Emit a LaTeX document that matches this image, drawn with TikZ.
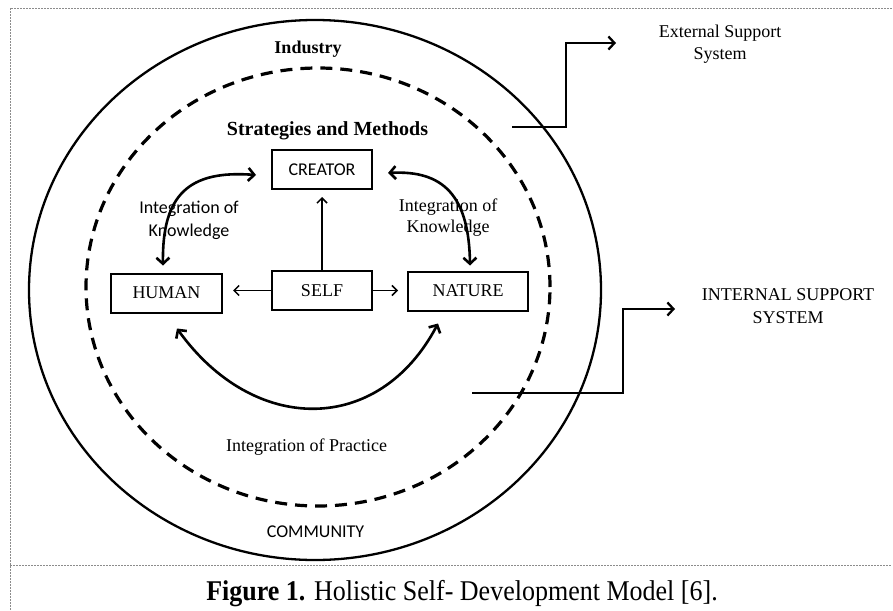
\documentclass[tikz,border=0pt]{standalone}
\usepackage{fontspec}
\setmainfont{Liberation Serif}
\newfontfamily\calib{Carlito}
\usetikzlibrary{arrows.meta,calc}
\begin{document}
\begin{tikzpicture}[x=1pt,y=-1pt,
  bord/.style={draw=black!45, line width=0.6pt, dash pattern=on 2pt off 1pt},
  box/.style={draw, line width=2pt, inner sep=0pt, minimum height=39pt, font=\fontsize{18}{22}\selectfont},
  txt/.style={font=\fontsize{18}{22}\selectfont, align=center, inner sep=0pt},
  stxt/.style={font=\calib\fontsize{18}{23}\selectfont, align=center, inner sep=0pt},
  thinarr/.style={line width=1.5pt, -{Straight Barb[length=5pt,width=10pt]}},
  curv/.style={line width=2.6pt, {Straight Barb[length=6pt,width=13pt]}-{Straight Barb[length=6pt,width=13pt]}},
  elbow/.style={line width=2.3pt, -{Straight Barb[length=6pt,width=13pt]}}
]
\useasboundingbox (0,0) rectangle (893,610);
% frame
\draw[bord] (10,610) -- (10,8) -- (893,8);
\draw[bord] (10,565) -- (891,565);
% ellipses
\draw[line width=2.3pt] (315,290) ellipse [x radius=286pt, y radius=270pt];
\draw[line width=3.2pt, dash pattern=on 12pt off 8pt] (318,287) ellipse [x radius=232pt, y radius=219pt];
% labels
\node[font=\bfseries\fontsize{18}{22}\selectfont, anchor=base, inner sep=0pt] (ind) at (308,53) {Industry};
\node[font=\bfseries\fontsize{20}{24}\selectfont, anchor=base, inner sep=0pt] (strat) at (327.5,135) {Strategies and Methods};
% boxes
\node[box, minimum width=100pt, font=\calib\fontsize{18}{22}\selectfont] (creator) at (322,169.5) {CREATOR};
\node[box, minimum width=111pt] (human) at (166.5,293) {HUMAN};
\node[box, minimum width=100pt] (self) at (322,290.5) {SELF};
\node[box, minimum width=120pt] (nature) at (468,291) {NATURE};
% straight arrows
\draw[thinarr, shorten >=7pt] (self.north) -- (self.north |- creator.south);
\draw[thinarr, shorten >=10pt] (self.west) -- (human.east |- self.west);
\draw[thinarr, shorten >=9pt] (self.east) -- (nature.west |- self.east);
% curved arrows
\draw[curv] ([xshift=-3.5pt,yshift=7pt]human.north) .. controls +(-1,-71) and +(-67,-5) .. ([xshift=-15pt,yshift=-5.5pt]creator.west);
\draw[curv] ([xshift=15pt,yshift=-3.5pt]creator.east) .. controls +(55,-3) and +(-1,-70) .. ([xshift=2pt,yshift=5pt]nature.north);
\draw[curv] ([xshift=10.5pt,yshift=-15pt]human.south) .. controls +(77,107) and +(-59,112) .. ([xshift=-30pt,yshift=-12pt]nature.south);
% integration labels
\node[stxt] (ik1) at (189,220) {Integration of\\Knowledge};
\node[txt, font=\fontsize{18}{21}\selectfont] (ik2) at (448,217.5) {Integration of\\Knowledge};
\node[txt] (ip) at (306.5,447) {Integration of Practice};
\node[stxt] (comm) at (315.5,532) {COMMUNITY};
% support systems
\node[txt] (ext) at (720,44) {External Support\\System};
\node[txt, font=\fontsize{18}{23}\selectfont] (int) at (788,306.5) {INTERNAL SUPPORT\\SYSTEM};
\coordinate (es) at (512,127);
\coordinate (ee) at (616,43);
\coordinate (is) at (472,393);
\coordinate (ie) at (675,309);
\draw[elbow] (es) -- ++(54,0) |- (ee);
\draw[elbow] (is) -- ++(151,0) |- (ie);
% caption
\node[font=\fontsize{26}{30}\selectfont, anchor=base, inner sep=0pt, yscale=1.1] (cap) at (462,600) {\textbf{Figure 1.} Holistic Self- Development Model [6].};
\end{tikzpicture}
\end{document}
